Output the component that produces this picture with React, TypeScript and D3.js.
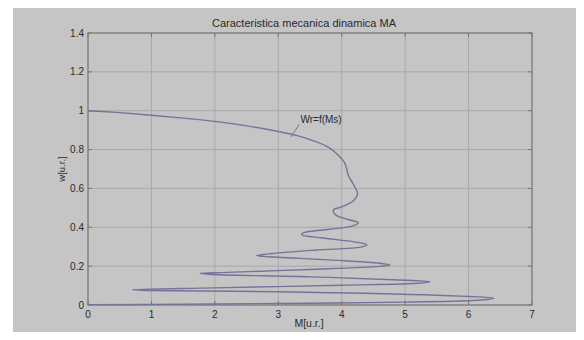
import React, { useEffect, useRef } from 'react'
import * as d3 from 'd3';

// torque M [u.r.] and speed w [u.r.]
const torque = [
  0, 0.5, 1, 1.5, 2, 2.5, 3, 3.3, 3.6, 3.8, 3.95, 4.04, 4.08, 4.1, 4.15, 4.22, 4.25, 4.18, 4.0, 3.87,
  3.9, 4.1, 4.26, 4.15, 3.8, 3.4, 3.37, 3.7, 4.2, 4.4, 4.3, 3.6, 2.9, 2.66, 2.8, 3.8, 4.6, 4.76, 4.6,
  3.5, 2.2, 1.77, 1.9, 3.5, 4.8, 5.39, 5.2, 4.0, 2.0, 0.7, 0.9, 3.0, 5.5, 6.4, 6.2, 5.0, 3.0, 1.5, 0
];
const speed = [
  1.0, 0.99, 0.977, 0.962, 0.945, 0.922, 0.893, 0.872, 0.84, 0.81, 0.77, 0.735, 0.70, 0.67, 0.64, 0.60, 0.57, 0.535, 0.505, 0.489,
  0.465, 0.44, 0.424, 0.405, 0.39, 0.372, 0.362, 0.345, 0.325, 0.31, 0.298, 0.283, 0.265, 0.255, 0.25, 0.232, 0.215, 0.206, 0.199,
  0.183, 0.168, 0.163, 0.158, 0.145, 0.13, 0.12, 0.112, 0.102, 0.088, 0.078, 0.075, 0.068, 0.05, 0.035, 0.026, 0.015, 0.008, 0.004, 0.002
];
const xTicks = [0, 1, 2, 3, 4, 5, 6, 7];
const yTicks = [0, 0.2, 0.4, 0.6, 0.8, 1, 1.2, 1.4];

const title = 'Caracteristica mecanica dinamica MA';
const xLabel = 'M[u.r.]';
const yLabel = 'w[u.r.]';
const curveLabel = 'Wr=f(Ms)';

function App() {
  const ref = useRef<SVGSVGElement>(null);
  const width = 584;
  const height = 340;
  const margin = { top: 33, left: 88, bottom: 35, right: 52 };

  useEffect(() => {
    const svg = d3.select(ref.current);
    svg.selectAll('*').remove();

    const x = d3.scaleLinear().domain([0, 7]).range([margin.left, width - margin.right]);
    const y = d3.scaleLinear().domain([0, 1.4]).range([height - margin.bottom, margin.top]);

    // page: white strip top/left, grey figure
    svg.append('rect').attr('width', width).attr('height', height).attr('fill', '#ffffff');
    svg.append('rect').attr('x', 13).attr('y', 7).attr('width', width - 13).attr('height', height - 7).attr('fill', '#c5c5c5');

    const font = 'Liberation Sans, Arial, sans-serif';

    // grid
    svg.append('g').selectAll('line').data(xTicks.slice(1, -1)).enter().append('line')
      .attr('x1', d => x(d)).attr('x2', d => x(d))
      .attr('y1', y(0)).attr('y2', y(1.4))
      .attr('stroke', '#a9a9a9').attr('stroke-width', 1);
    svg.append('g').selectAll('line').data(yTicks.slice(1, -1)).enter().append('line')
      .attr('x1', x(0)).attr('x2', x(7))
      .attr('y1', d => y(d)).attr('y2', d => y(d))
      .attr('stroke', '#a9a9a9').attr('stroke-width', 1);

    // box
    svg.append('rect')
      .attr('x', x(0)).attr('y', y(1.4))
      .attr('width', x(7) - x(0)).attr('height', y(0) - y(1.4))
      .attr('fill', 'none').attr('stroke', '#787878').attr('stroke-width', 1.3);

    // inward ticks on all four sides
    const tk = 4;
    const tg = svg.append('g').attr('stroke', '#787878').attr('stroke-width', 1);
    xTicks.forEach(t => {
      tg.append('line').attr('x1', x(t)).attr('x2', x(t)).attr('y1', y(0)).attr('y2', y(0) - tk);
      tg.append('line').attr('x1', x(t)).attr('x2', x(t)).attr('y1', y(1.4)).attr('y2', y(1.4) + tk);
    });
    yTicks.forEach(t => {
      tg.append('line').attr('x1', x(0)).attr('x2', x(0) + tk).attr('y1', y(t)).attr('y2', y(t));
      tg.append('line').attr('x1', x(7)).attr('x2', x(7) - tk).attr('y1', y(t)).attr('y2', y(t));
    });

    // tick labels
    svg.append('g').selectAll('text').data(xTicks).enter().append('text')
      .attr('x', d => x(d)).attr('y', y(0) + 13)
      .attr('text-anchor', 'middle')
      .style('font-family', font).style('font-size', '10px').attr('fill', '#2a2a2a')
      .text(d => d);
    svg.append('g').selectAll('text').data(yTicks).enter().append('text')
      .attr('x', x(0) - 4).attr('y', d => y(d) + 3.5)
      .attr('text-anchor', 'end')
      .style('font-family', font).style('font-size', '10px').attr('fill', '#2a2a2a')
      .text(d => d);

    // title and axis labels
    svg.append('text')
      .attr('x', 304).attr('y', 27)
      .attr('text-anchor', 'middle')
      .style('font-family', font).style('font-size', '11px').attr('fill', '#2a2a2a')
      .text(title);
    svg.append('text')
      .attr('x', 309).attr('y', 327)
      .attr('text-anchor', 'middle')
      .style('font-family', font).style('font-size', '10.5px').attr('fill', '#2a2a2a')
      .text(xLabel);
    svg.append('text')
      .attr('transform', `translate(65, ${y(0.7)}) rotate(-90)`)
      .attr('text-anchor', 'middle')
      .style('font-family', font).style('font-size', '9.5px').attr('fill', '#2a2a2a')
      .text(yLabel);

    // curve
    const pts = torque.map((m, i) => [m, speed[i]] as [number, number]);
    const line = d3.line<[number, number]>()
      .x(d => x(d[0])).y(d => y(d[1]))
      .curve(d3.curveCatmullRom.alpha(0.5));
    svg.append('path')
      .datum(pts)
      .attr('d', line)
      .attr('fill', 'none')
      .attr('stroke', '#74749a')
      .attr('stroke-width', 1.4);

    // annotation
    svg.append('line')
      .attr('x1', x(3.2)).attr('y1', y(0.865))
      .attr('x2', x(3.33)).attr('y2', y(0.93))
      .attr('stroke', '#74749a').attr('stroke-width', 1);
    svg.append('text')
      .attr('x', x(3.35)).attr('y', y(0.935))
      .style('font-family', font).style('font-size', '10px').attr('fill', '#2a2a2a')
      .text(curveLabel);
  }, []);

  return (
    <div style={{ margin: -8 }}>
      <svg ref={ref} width={width} height={height} style={{ display: 'block' }} />
    </div>
  );
}

export default App;
